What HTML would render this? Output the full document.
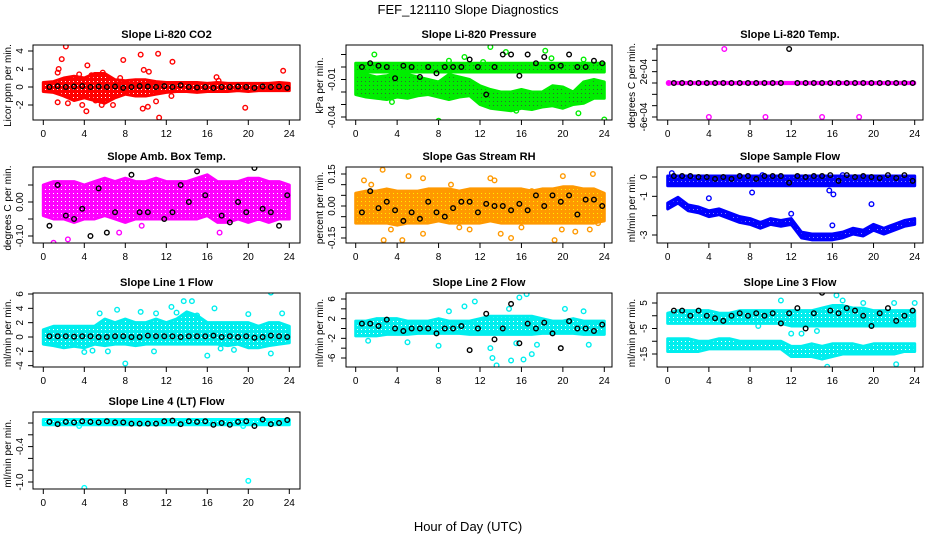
<!DOCTYPE html>
<html><head><meta charset="utf-8"><style>
body{margin:0;background:#fff;}
svg{display:block;font-family:"Liberation Sans",Arial,sans-serif;}
</style></head><body>
<svg id="c" width="936" height="540" viewBox="0 0 936 540">
<defs id="defs"></defs>
<text x="468" y="14" text-anchor="middle" font-size="13">FEF_121110  Slope Diagnostics</text>
<text x="468" y="531" text-anchor="middle" font-size="13">Hour of Day (UTC)</text>
</svg>
<script>
const hours=[0,1,2,3,4,5,6,7,8,9,10,11,12,13,14,15,16,17,18,19,20,21,22,23,24];
const xTicks=[0,4,8,12,16,20,24];
const blackX=[0.6,1.4,2.2,3.0,3.8,4.6,5.4,6.2,7.0,7.8,8.6,9.4,10.2,11.0,11.8,12.6,13.4,14.2,15.0,15.8,16.6,17.4,18.2,19.0,19.8,20.6,21.4,22.2,23.0,23.8];

const co2Lo=[-0.5,-0.6,-1.0,-1.5,-1.2,-1.5,-1.8,-1.2,-0.8,-1.0,-1.0,-0.8,-0.6,-0.5,-0.5,-0.6,-0.5,-0.5,-0.5,-0.4,-0.5,-0.4,-0.4,-0.4,-0.4];
const co2Hi=[0.5,0.6,1.0,1.2,1.0,1.5,1.5,0.8,0.7,0.8,0.8,0.6,0.5,0.5,0.5,0.5,0.4,0.5,0.4,0.4,0.4,0.4,0.4,0.5,0.4];
const co2OutX=[2.2,1.8,1.5,1.4,1.4,2.4,3.8,4.2,4.3,5.7,7.8,9.5,9.8,9.7,10.3,10.2,11.2,11.3,11.0,12.6,12.5,16.9,17.1,19.7,23.4,6.8,5.1,4.6,3.5,4.7,5.8,7.5];
const co2OutY=[4.5,3.1,2.0,1.6,-1.7,-1.8,-2.0,-2.7,2.4,-2.0,3.0,3.6,1.9,-2.4,1.7,-2.2,3.7,-3.4,-1.6,2.8,-1.0,1.1,0.7,-2.3,1.8,-2.0,-1.5,-1.2,1.4,1.3,1.6,1.0];
const co2Black=[0,0.1,0,0.05,0.1,0,0.05,0,0.05,-0.1,0,0.1,0.05,0,0.1,0,0.2,0,-0.05,0,-0.1,0,0,0.05,0,-0.1,0.05,0,0.05,-0.1];

const presLoA=[-0.004,-0.004,-0.004,-0.004,-0.004,-0.004,-0.004,-0.004,-0.004,-0.004,-0.004,-0.004,-0.004,-0.004,-0.004,-0.004,-0.004,-0.004,-0.004,-0.004,-0.004,-0.004,-0.004,-0.004,-0.004];
const presHiA=[0.003,0.003,0.003,0.003,0.003,0.003,0.003,0.003,0.003,0.003,0.003,0.003,0.003,0.003,0.003,0.003,0.003,0.003,0.003,0.003,0.003,0.003,0.003,0.003,0.003];
const presLoB=[-0.022,-0.024,-0.025,-0.026,-0.024,-0.025,-0.023,-0.022,-0.024,-0.026,-0.024,-0.023,-0.030,-0.033,-0.034,-0.035,-0.033,-0.034,-0.032,-0.031,-0.033,-0.030,-0.029,-0.025,-0.025];
const presHiB=[-0.005,-0.006,-0.008,-0.007,-0.005,-0.006,-0.008,-0.010,-0.012,-0.006,-0.008,-0.010,-0.015,-0.018,-0.020,-0.020,-0.018,-0.020,-0.020,-0.015,-0.016,-0.020,-0.012,-0.010,-0.012];
const presOutX=[1.8,8.0,16.0,24.0,13.0,14.5,18.3,15.5,17.2,20.1,10.5,9.0,12.3,18.9,22.0,5.8,3.5,21.5];
const presOutY=[0.010,-0.043,-0.047,-0.042,0.016,0.012,0.013,-0.035,-0.028,-0.025,0.008,0.005,0.004,0.007,0.006,-0.020,-0.028,-0.037];
const presBlack=[0,0.003,0.001,0,-0.009,0.001,0,-0.008,0,-0.005,0,0,0,0.006,0,-0.022,0,0.010,0.010,-0.007,0.010,0.003,0.008,0,0.001,0.010,0,0,0.005,0.003];

const tempLo=[-0.1e-4,-0.1e-4,-0.1e-4,-0.1e-4,-0.1e-4,-0.1e-4,-0.1e-4,-0.1e-4,-0.1e-4,-0.1e-4,-0.1e-4,-0.1e-4,-0.1e-4,-0.1e-4,-0.1e-4,-0.1e-4,-0.1e-4,-0.1e-4,-0.1e-4,-0.1e-4,-0.1e-4,-0.1e-4,-0.1e-4,-0.1e-4,-0.1e-4];
const tempHi=[0.1e-4,0.1e-4,0.1e-4,0.1e-4,0.1e-4,0.1e-4,0.1e-4,0.1e-4,0.1e-4,0.1e-4,0.1e-4,0.1e-4,0.1e-4,0.1e-4,0.1e-4,0.1e-4,0.1e-4,0.1e-4,0.1e-4,0.1e-4,0.1e-4,0.1e-4,0.1e-4,0.1e-4,0.1e-4];
const tempOutX=[5.5,4.0,9.5,15.0,18.6,0.1];
const tempOutY=[6e-4,-6e-4,-6e-4,-6e-4,-6e-4,0];
const tempBlack=[0,0,0,0,0,0,0,0,0,0,0,0,0,0,6e-4,0,0,0,0,0,0,0,0,0,0,0,0,0,0,0];

const boxLo=[-0.04,-0.05,-0.05,-0.06,-0.05,-0.05,-0.04,-0.05,-0.06,-0.05,-0.05,-0.05,-0.05,-0.05,-0.05,-0.05,-0.04,-0.06,-0.06,-0.05,-0.06,-0.05,-0.06,-0.05,-0.05];
const boxHi=[0.05,0.06,0.06,0.06,0.05,0.06,0.07,0.06,0.07,0.06,0.06,0.07,0.06,0.06,0.06,0.07,0.08,0.06,0.06,0.06,0.07,0.07,0.06,0.06,0.05];
const boxOutX=[2.8,3.0,5.5,6.2,6.9,7.3,10.8,12.3,14.4,15.0,16.6,20.3,21.8,22.4,0.4,0.9,1.0,5.1,11.5,15.1,22.2,22.6,23.5,2.4,7.4,9.6,13.5,17.2,19.5,12.9];
const boxOutY=[0.17,0.12,0.16,0.14,0.16,0.15,0.19,0.14,0.15,0.12,0.19,0.13,0.15,0.15,-0.16,-0.17,-0.12,-0.17,-0.2,-0.22,-0.17,-0.17,-0.14,-0.11,-0.09,-0.07,-0.13,-0.09,-0.14,-0.13];
const boxBlack=[-0.07,0.05,-0.04,-0.05,-0.02,-0.10,0.04,-0.09,-0.03,0.12,0.08,-0.03,-0.03,-0.16,-0.05,-0.03,0.05,0.00,0.09,0.02,-0.13,-0.04,-0.06,0.00,-0.03,0.10,-0.02,-0.03,-0.07,0.02];

const rhLo=[-0.08,-0.08,-0.08,-0.08,-0.09,-0.08,-0.08,-0.08,-0.07,-0.08,-0.08,-0.08,-0.08,-0.07,-0.08,-0.08,-0.08,-0.08,-0.08,-0.08,-0.08,-0.08,-0.08,-0.08,-0.07];
const rhHi=[0.06,0.07,0.07,0.08,0.07,0.07,0.07,0.08,0.08,0.08,0.07,0.08,0.08,0.08,0.08,0.08,0.08,0.07,0.08,0.08,0.09,0.09,0.08,0.08,0.06];
const rhOutX=[0.8,1.5,2.6,3.4,2.7,4.5,5.1,6.5,6.5,10.0,13.0,13.4,14.0,15.0,16.0,19.2,19.9,20.0,21.2,22.6,22.9,23.4,9.2,11.0,17.0];
const rhOutY=[0.12,0.10,0.17,-0.11,-0.16,-0.16,0.14,0.13,-0.13,-0.1,0.13,0.12,-0.13,-0.15,-0.1,-0.16,-0.11,0.14,-0.12,-0.11,0.15,-0.08,0.1,-0.11,0.07];
const rhBlack=[-0.03,0.07,-0.01,0.02,-0.02,-0.07,-0.03,-0.06,0.02,-0.03,-0.05,-0.01,0.02,0.02,-0.03,0.01,0.00,0.00,-0.02,0.01,-0.02,0.05,0.00,0.05,0.02,0.05,-0.04,0.03,0.03,0.00];

const sampLoA=[-0.45,-0.45,-0.45,-0.45,-0.45,-0.45,-0.45,-0.45,-0.45,-0.45,-0.45,-0.45,-0.45,-0.45,-0.45,-0.45,-0.45,-0.45,-0.45,-0.45,-0.45,-0.45,-0.45,-0.45,-0.45];
const sampHiA=[0.05,0.05,0.05,0.05,0.05,0.05,0.05,0.05,0.05,0.05,0.05,0.05,0.05,0.05,0.05,0.05,0.05,0.05,0.05,0.05,0.05,0.05,0.05,0.05,0.05];
const sampLoB=[-1.65,-1.35,-1.75,-1.85,-2.05,-1.95,-2.15,-2.35,-2.45,-2.65,-2.45,-2.55,-2.45,-3.15,-3.25,-3.25,-3.25,-3.15,-2.95,-3.05,-2.75,-2.95,-2.75,-2.55,-2.45];
const sampHiB=[-1.35,-1.05,-1.45,-1.55,-1.75,-1.65,-1.85,-2.05,-2.15,-2.35,-2.15,-2.25,-2.15,-2.85,-2.95,-2.95,-2.95,-2.85,-2.65,-2.75,-2.45,-2.65,-2.45,-2.25,-2.15];
const sampOutX=[0.4,4.0,8.2,15.7,16.1,16.0,19.8,12.0,9.2,17.0];
const sampOutY=[0.2,-1.1,-0.8,-0.7,-0.9,-2.5,-1.4,-1.9,0.1,0.1];
const sampBlack=[0.05,0.05,0.05,0,0,-0.1,0,-0.1,0.05,0.05,-0.1,0.05,0.05,0.05,-0.3,0.05,0,0.05,0.05,0.1,-0.2,0.1,0,0.05,0,-0.05,0.1,-0.05,0.1,-0.2];

const l1Lo=[-1,-1.2,-1.5,-1.3,-1.5,-1,-1.2,-1,-1,-1.2,-1,-1,-1,-1,-1,-1,-1,-1,-1.2,-1,-1.5,-1.5,-1.2,-1,-0.8];
const l1Hi=[1,1.5,1.5,1.5,1.5,1.5,2.5,2,2.5,2,2,2.5,2,2.5,3.5,3,2,2,2,2,2,1.5,2,2,1.5];
const l1OutX=[8,22.2,13.7,14.5,12.5,13.0,16.7,7.2,5.5,9.5,4.0,4.8,6.3,10.8,16.0,17.3,18.6,22.2,23.3,20.0,11.0,15.0];
const l1OutY=[-3.7,6.2,5,5,4.2,3.4,4,3.8,3.3,3.5,-2.1,-1.9,-2,-2,-2.6,-1.6,-1.8,-2.3,3.3,3.2,3.3,3.0];
const l1Black=[0.1,0.1,0.1,0.05,0.1,0.1,0,0,0.1,0.1,0,0,0.2,0.1,0.1,0.1,0,0.1,0.1,0.1,0.2,0,0.1,0,0.1,-0.1,0,0.2,0.1,0];

const l2Lo=[-1.5,-1.5,-1.5,-1.2,-1.2,-1.2,-1,-1,-1,-1,-1,-1.2,-1.2,-1.2,-1.2,-1.2,-1.2,-1.2,-1,-1,-1,-1,-1.2,-1.2,-1.2];
const l2Hi=[1.5,1.5,2,2,2,1.5,1.5,1.5,2,1.5,1.5,1.5,2,2.5,2.5,2.5,2.5,2.5,2,1.5,1.5,2,1.5,1.5,1.5];
const l2OutX=[16.5,15.8,11.5,10.5,13,13.2,13.6,15,16.2,17,8,1.2,5.0,17.5,22.5,15.5,20.2,22.0,9.0,14.8];
const l2OutY=[7,6.3,5.5,4.5,-4,-6,-7.5,-6.5,-6.3,-5.2,-3.5,-2.5,-2.8,-3.3,-3.3,-3,4,3.5,3.5,4.0];
const l2Black=[1.0,1.0,0.5,1.8,0.0,-0.5,0.0,0.0,0.0,-1.0,0.0,0.0,0.5,-4.4,0.0,3.0,-2.2,0.0,5.0,-3.0,1.0,0.0,1.2,-1.0,-4.0,1.5,0.0,0.0,-0.5,0.8];

const l3LoA=[-3,-3,-3,-3,-3,-3,-3,-3,-3,-3,-3,-3,-4,-4,-4,-4,-4,-4,-4,-4,-4,-4,-4,-4,-4];
const l3HiA=[1,2,2,2,2,1,1,2,2,2,2,2,2,2,2,3,4,4,3,3,2,2,2,2,2];
const l3LoB=[-14,-14,-14,-14,-13,-13,-13,-13,-13,-13,-13,-13,-16,-16,-16,-17,-16,-15,-15,-15,-15,-15,-15,-14,-14];
const l3HiB=[-9,-9,-9,-10,-10,-9,-9,-10,-10,-10,-10,-10,-12,-12,-11,-12,-11,-11,-11,-12,-11,-11,-11,-11,-11];
const l3OutX=[15.8,16.4,17,22.2,15.5,11,22,24,19,12,13,8.8,14.5];
const l3OutY=[10,8,6,-19,-20,6,5,5,5,-7,-7,-4,-6];
const l3Black=[2,2,0,2,0,-1,-2,0,1,0,1,0,1,-3,1,3,-5,1,9,2,1,3,2,0,-4,1,3,-2,0,2];

const l4Lo=[-0.03,-0.03,-0.03,-0.03,-0.03,-0.03,-0.03,-0.03,-0.03,-0.03,-0.03,-0.03,-0.03,-0.03,-0.03,-0.03,-0.03,-0.03,-0.03,-0.03,-0.03,-0.03,-0.03,-0.03,-0.03];
const l4Hi=[0.06,0.06,0.06,0.06,0.06,0.06,0.06,0.06,0.06,0.06,0.06,0.06,0.06,0.06,0.06,0.06,0.06,0.06,0.06,0.06,0.06,0.06,0.06,0.06,0.06];
const l4OutX=[4,20,3.5,19.5];
const l4OutY=[-1.1,-0.98,-0.05,-0.05];
const l4Black=[0.02,-0.02,0.02,0.01,0.03,0.02,0.01,0.03,0.01,0.01,-0.01,-0.01,-0.01,-0.01,0.03,0.04,-0.02,0.03,0.02,0.03,-0.03,0.00,-0.03,0.02,0.03,-0.05,0.06,-0.02,0.00,0.05];

const svg=document.getElementById('c');
const defs=document.getElementById('defs');
const NS='http://www.w3.org/2000/svg';
const cols=[{l:33,r:300,x0:43.3,x24:289.3,tl:8,lab:23},{l:346,r:612,x0:355.7,x24:604.3,tl:320,lab:335},{l:657,r:923,x0:667.7,x24:914.7,tl:632,lab:647}];
const rows=[{t:45,b:120},{t:167,b:243},{t:293,b:367},{t:412,b:489}];
const panels=[
 {name:'co2',title:'Slope Li-820 CO2',ylab:'Licor ppm per min.',c:0,r:0,vA:0,pA:87,vB:4,pB:51,ticks:[-2,0,2,4],labs:['-2','0','2','4'],color:'#ff0000',dot:'#ffffff',bands:[[co2Lo,co2Hi]],ox:co2OutX,oy:co2OutY,bk:co2Black},
 {name:'pressure',title:'Slope Li-820 Pressure',ylab:'kPa per min.',c:1,r:0,vA:0,pA:67,vB:-0.04,pB:117,ticks:[0.01,0,-0.01,-0.02,-0.03,-0.04],labs:['','','-0.01','','','-0.04'],color:'#00ee00',dot:'#336633',bands:[[presLoA,presHiA],[presLoB,presHiB]],ox:presOutX,oy:presOutY,bk:presBlack},
 {name:'li820-temp',title:'Slope Li-820 Temp.',ylab:'degrees C per min.',c:2,r:0,vA:0,pA:83,vB:6e-4,pB:49,ticks:[6e-4,4e-4,2e-4,0,-2e-4,-4e-4,-6e-4],labs:['','','2e-04','','','','-6e-04'],color:'#ff00ff',dot:'#ffffff',bands:[[tempLo,tempHi]],ox:tempOutX,oy:tempOutY,bk:tempBlack},
 {name:'amb-box-temp',title:'Slope Amb. Box Temp.',ylab:'degrees C per min.',c:0,r:1,vA:0,pA:202,vB:-0.10,pB:236,ticks:[0.05,0,-0.05,-0.10],labs:['','0.00','','-0.10'],color:'#ff00ff',dot:'#ffffff',bands:[[boxLo,boxHi]],ox:boxOutX,oy:boxOutY,bk:boxBlack},
 {name:'gas-stream-rh',title:'Slope Gas Stream RH',ylab:'percent per min.',c:1,r:1,vA:0,pA:206,vB:0.15,pB:174,ticks:[0.15,0.10,0.05,0,-0.05,-0.10,-0.15],labs:['0.15','','','0.00','','','-0.15'],color:'#ff9900',dot:'#ffee00',bands:[[rhLo,rhHi]],ox:rhOutX,oy:rhOutY,bk:rhBlack},
 {name:'sample-flow',title:'Slope Sample Flow',ylab:'ml/min per min.',c:2,r:1,vA:0,pA:177,vB:-3,pB:235,ticks:[0,-1,-2,-3],labs:['0','-1','','-3'],color:'#0000ff',dot:'#8888ff',bands:[[sampLoA,sampHiA],[sampLoB,sampHiB]],ox:sampOutX,oy:sampOutY,bk:sampBlack},
 {name:'line1-flow',title:'Slope Line 1 Flow',ylab:'ml/min per min.',c:0,r:2,vA:0,pA:337,vB:6,pB:294,ticks:[6,4,2,0,-2,-4],labs:['6','4','2','0','-2','-4'],color:'#00eeee',dot:'#ffffff',bands:[[l1Lo,l1Hi]],ox:l1OutX,oy:l1OutY,bk:l1Black},
 {name:'line2-flow',title:'Slope Line 2 Flow',ylab:'ml/min per min.',c:1,r:2,vA:6,pA:299,vB:-6,pB:358,ticks:[6,4,2,0,-2,-4,-6],labs:['6','','2','','-2','','-6'],color:'#00eeee',dot:'#ffffff',bands:[[l2Lo,l2Hi]],ox:l2OutX,oy:l2OutY,bk:l2Black},
 {name:'line3-flow',title:'Slope Line 3 Flow',ylab:'ml/min per min.',c:2,r:2,vA:5,pA:303,vB:-15,pB:354,ticks:[5,0,-5,-10,-15],labs:['5','','-5','','-15'],color:'#00eeee',dot:'#ffffff',bands:[[l3LoA,l3HiA],[l3LoB,l3HiB]],ox:l3OutX,oy:l3OutY,bk:l3Black},
 {name:'line4-flow',title:'Slope Line 4 (LT) Flow',ylab:'ml/min per min.',c:0,r:3,vA:0,pA:423,vB:-1,pB:482,ticks:[0,-0.2,-0.4,-0.6,-0.8,-1.0],labs:['','','-0.4','','','-1.0'],color:'#00ffff',dot:'#ffffff',bands:[[l4Lo,l4Hi]],ox:l4OutX,oy:l4OutY,bk:l4Black}
];
function mk(tag,attrs,parent){const e=document.createElementNS(NS,tag);for(const k in attrs)e.setAttribute(k,attrs[k]);(parent||svg).appendChild(e);return e;}
panels.forEach(p=>{
 const C=cols[p.c],R=rows[p.r];
 const xs=h=>C.x0+(h/24)*(C.x24-C.x0);
 const ys=v=>p.pA+(v-p.vA)*(p.pB-p.pA)/(p.vB-p.vA);
 const pat=mk('pattern',{id:'pat-'+p.name,width:4,height:4,patternUnits:'userSpaceOnUse'},defs);
 mk('rect',{x:0,y:0,width:4,height:4,fill:p.color},pat);
 mk('rect',{x:1,y:1,width:1,height:1,fill:p.dot},pat);
 const g=mk('g',{});
 
 
 const clip='clip-'+p.name;
 const cp=mk('clipPath',{id:clip},g);mk('rect',{x:C.l,y:R.t,width:C.r-C.l,height:R.b-R.t},cp);
 const pg=mk('g',{'clip-path':'url(#'+clip+')'},g);
 p.bands.forEach((b,bi)=>{
  let pts=hours.map((h,i)=>xs(h)+','+ys(b[1][i]));
  pts=pts.concat(hours.slice().reverse().map((h,j)=>{const i=hours.length-1-j;return xs(h)+','+ys(b[0][i]);}));
  const poly=mk('polygon',{points:pts.join(' '),fill:'url(#pat-'+p.name+')',stroke:p.color,'stroke-width':3,'stroke-linejoin':'round'},pg);
  
  
 });
 p.ox.forEach((x,i)=>{
  const c=mk('circle',{cx:xs(x),cy:ys(p.oy[i]),r:2.3,fill:'none',stroke:p.color,'stroke-width':1.4},pg);
  
  
 });
 blackX.forEach((x,i)=>{
  const c=mk('circle',{cx:xs(x),cy:ys(p.bk[i]),r:2.3,fill:'none',stroke:'#000','stroke-width':1.4},pg);
  
  
 });
 const frame=mk('rect',{x:C.l,y:R.t,width:C.r-C.l,height:R.b-R.t,fill:'none',stroke:'#000','stroke-width':1},g);
 
 
 const t=mk('text',{x:(C.l+C.r)/2,y:R.t-7,'text-anchor':'middle','font-size':11,'font-weight':'bold'},g);t.textContent=p.title;
 
 
 xTicks.forEach(h=>{
  mk('line',{x1:xs(h),x2:xs(h),y1:R.b,y2:R.b+5,stroke:'#000'},g);
  const tx=mk('text',{x:xs(h),y:R.b+17,'text-anchor':'middle','font-size':10},g);tx.textContent=h;
  
  
 });
 p.ticks.forEach((v,i)=>{
  mk('line',{x1:C.l-5,x2:C.l,y1:ys(v),y2:ys(v),stroke:'#000'},g);
  if(p.labs[i]){const ty=mk('text',{x:C.lab,y:ys(v),'text-anchor':'middle','font-size':10,transform:'rotate(-90 '+C.lab+' '+ys(v)+')'},g);ty.textContent=p.labs[i];
  
  }
 });
 const cy=(R.t+R.b)/2;
 const yl=mk('text',{x:C.tl,y:cy,'text-anchor':'middle','font-size':10,transform:'rotate(-90 '+(C.tl+3)+' '+cy+')'},g);yl.textContent=p.ylab;
 
 
});
</script>
</body></html>
